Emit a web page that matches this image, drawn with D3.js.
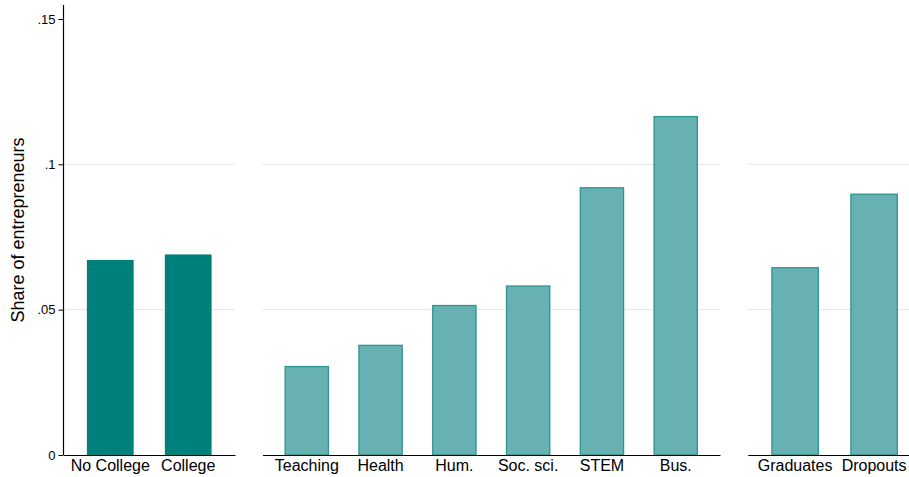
<!DOCTYPE html>
<html><head><meta charset="utf-8">
<script src="https://cdn.jsdelivr.net/npm/d3@7"></script>
<style>body{margin:0;background:#fff}svg{display:block}text{font-family:"Liberation Sans",Arial,sans-serif}</style>
</head><body><svg id="c" width="909" height="477"></svg>
<script>
const edCats = ["No College", "College"];
const edVals = [0.0671, 0.0690];
const fieldCats = ["Teaching", "Health", "Hum.", "Soc. sci.", "STEM", "Bus."];
const fieldVals = [0.0306, 0.0379, 0.0516, 0.0583, 0.0921, 0.1166];
const gradCats = ["Graduates", "Dropouts"];
const gradVals = [0.0646, 0.0899];
const yTicks = [0, 0.05, 0.1, 0.15];
const yTickLabels = ["0", ".05", ".1", ".15"];
const gridTicks = [0.05, 0.1];

const svg = d3.select("#c");
const y = d3.scaleLinear().domain([0, 0.15]).range([455, 19]);

const panels = [
  {cats: edCats, vals: edVals, range: [63.5, 235], fill: "#00807b", stroke: "none"},
  {cats: fieldCats, vals: fieldVals, range: [262.5, 720], fill: "#67b1b3", stroke: "#2e9490"},
  {cats: gradCats, vals: gradVals, range: [747.7, 921.5], fill: "#67b1b3", stroke: "#2e9490"}
];

panels.forEach(p => {
  const x = d3.scaleBand().domain(p.cats).range(p.range).paddingInner(0.4).paddingOuter(0.3);
  const g = svg.append("g");
  g.selectAll("line.grid").data(gridTicks).join("line")
    .attr("x1", p.range[0]).attr("x2", p.range[1])
    .attr("y1", d => y(d)).attr("y2", d => y(d))
    .attr("stroke", "#e4e4e4").attr("stroke-width", 1);
  const sw = p.stroke === "none" ? 0 : 1;
  g.selectAll("rect").data(p.cats).join("rect")
    .attr("x", d => x(d) + sw/2)
    .attr("width", x.bandwidth() - sw)
    .attr("y", (d, i) => y(p.vals[i]) + sw/2)
    .attr("height", (d, i) => y(0) - y(p.vals[i]) - sw/2)
    .attr("fill", p.fill)
    .attr("stroke", p.stroke).attr("stroke-width", 1.3);
  const ax = g.append("g").attr("transform", `translate(0,${y(0)})`)
    .call(d3.axisBottom(x).tickSize(0).tickPadding(5).tickSizeOuter(0));
  ax.select(".domain").attr("stroke", "#000").attr("stroke-width", 1.2);
  ax.selectAll("text").attr("font-size", 16).attr("fill", "#000")
    .attr("font-family", '"Liberation Sans", Arial, sans-serif');
});

const yAxis = svg.append("g").attr("transform", "translate(63.5,0)")
  .call(d3.axisLeft(y).tickValues(yTicks).tickFormat((d, i) => yTickLabels[i]).tickSize(5).tickPadding(3).tickSizeOuter(0));
yAxis.select(".domain").attr("d", `M0,5V${y(0)}`).attr("stroke", "#000").attr("stroke-width", 1.2);
yAxis.selectAll(".tick line").attr("stroke", "#000");
yAxis.selectAll("text").attr("font-size", 13).attr("fill", "#000")
  .attr("font-family", '"Liberation Sans", Arial, sans-serif');

svg.append("text")
  .attr("transform", "translate(24,230) rotate(-90)")
  .attr("text-anchor", "middle")
  .attr("font-size", 18)
  .attr("fill", "#000")
  .text("Share of entrepreneurs");
</script></body></html>
